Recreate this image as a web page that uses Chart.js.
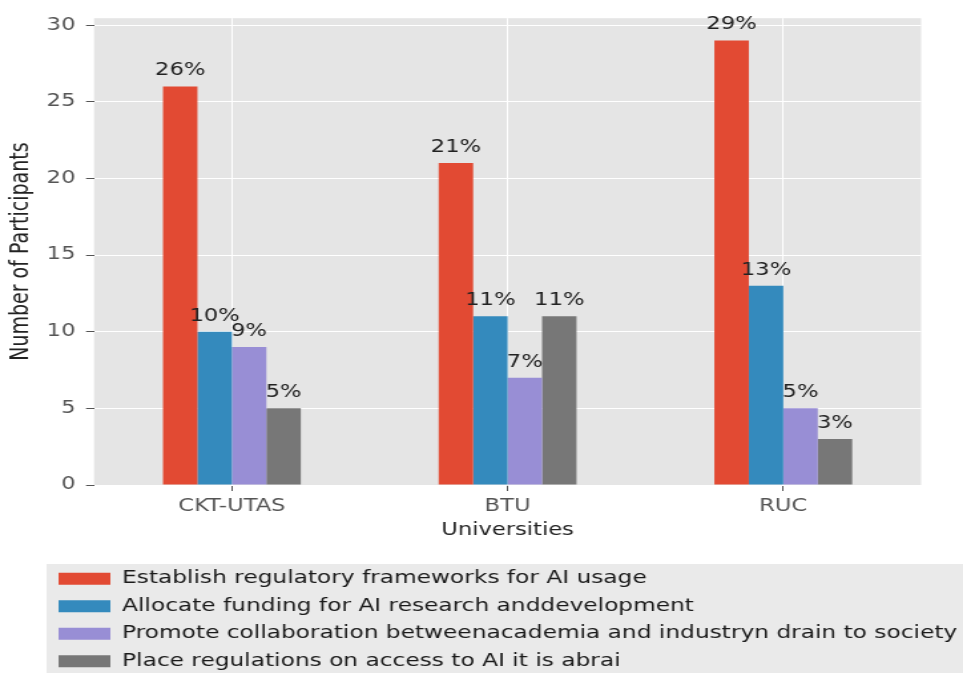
<!DOCTYPE html>
<html>
<head>
<meta charset="utf-8">
<title>Participants by university</title>
<script src="https://cdn.jsdelivr.net/npm/chart.js@4.4.1/dist/chart.umd.min.js"></script>
<style>
  html, body { margin: 0; padding: 0; background: #fff; }
</style>
</head>
<body>
<!-- the source figure is stretched sideways, so the canvas is drawn narrow and widened by its style -->
<canvas id="participantsChart" width="724" height="674" style="display:block;width:963px;height:674px"></canvas>
<script>
// data
const universities = ['CKT-UTAS', 'BTU', 'RUC'];
const regulatoryFrameworks = [26, 21, 29];
const researchFunding = [10, 11, 13];
const academiaCollaboration = [9, 7, 5];
const accessRegulations = [5, 11, 3];
const seriesNames = [
  'Establish regulatory frameworks for AI usage',
  'Allocate funding for AI research anddevelopment',
  'Promote collaboration betweenacademia and industryn drain to society',
  'Place regulations on access to AI it is abrai'
];
const seriesColors = ['#E24A33', '#348ABD', '#988ED5', '#777777'];
const yTicks = [0, 5, 10, 15, 20, 25, 30];

Chart.defaults.font.family = "'DejaVu Sans', sans-serif";
Chart.defaults.font.size = 17;

// grey panel behind the bars and behind the legend
const panelBackground = {
  id: 'panelBackground',
  afterLayout(chart) {
    chart.legend.left = 34;
    chart.legend.right = chart.width;
  },
  beforeDraw(chart) {
    const {ctx, chartArea, legend} = chart;
    ctx.save();
    ctx.fillStyle = '#E5E5E5';
    ctx.fillRect(chartArea.left, chartArea.top, chartArea.right - chartArea.left, chartArea.bottom - chartArea.top);
    ctx.fillStyle = '#EAEAEA';
    ctx.fillRect(legend.left + 1, legend.top + 4, chart.width - legend.left, legend.height - 11);
    ctx.restore();
  }
};

// percentage text above every bar
const valueLabels = {
  id: 'valueLabels',
  afterDatasetsDraw(chart) {
    const ctx = chart.ctx;
    ctx.save();
    ctx.font = "17px 'DejaVu Sans'";
    ctx.fillStyle = '#222';
    ctx.textAlign = 'center';
    ctx.textBaseline = 'alphabetic';
    chart.data.datasets.forEach((ds, i) => {
      chart.getDatasetMeta(i).data.forEach((bar, j) => {
        ctx.fillText(ds.data[j] + '%', bar.x, bar.y - 11);
      });
    });
    ctx.restore();
  }
};

const seriesValues = [regulatoryFrameworks, researchFunding, academiaCollaboration, accessRegulations];

const participantsData = {
  labels: universities,
  datasets: seriesValues.map((values, i) => ({
    label: seriesNames[i],
    data: values,
    backgroundColor: seriesColors[i],
    borderWidth: 0,
    categoryPercentage: 0.5,
    barPercentage: 1.0
  }))
};

const participantsConfig = {
  type: 'bar',
  data: participantsData,
  options: {
    responsive: false,
    devicePixelRatio: 1,
    animation: false,
    layout: {
      padding: {top: 15, right: 31.5, bottom: -6, left: 0}
    },
    scales: {
      x: {
        offset: true,
        border: {display: false},
        grid: {color: '#fff', offset: false, tickColor: '#555', tickLength: 6},
        ticks: {color: '#555', padding: 5},
        title: {
          display: true,
          text: 'Universities',
          color: '#222',
          padding: {top: 4, bottom: 19}
        },
        afterFit(scale) {
          scale.height = 75;
        }
      },
      y: {
        min: 0,
        max: 30.45,
        afterBuildTicks(scale) {
          scale.ticks = yTicks.map(v => ({value: v}));
        },
        border: {display: false},
        grid: {color: '#fff', tickColor: '#555', tickLength: 6},
        ticks: {color: '#555', padding: 8},
        title: {
          display: true,
          text: 'Number of Participants',
          color: '#222',
          font: {size: 19},
          padding: {top: 5, bottom: 0}
        },
        afterFit(scale) {
          scale.width = 70.7;
        }
      }
    },
    plugins: {
      legend: {
        position: 'bottom',
        align: 'start',
        labels: {
          boxWidth: 39,
          boxHeight: 12,
          padding: 10,
          color: '#1a1a1a',
          font: {size: 17.5}
        }
      },
      tooltip: {enabled: false}
    }
  },
  plugins: [panelBackground, valueLabels]
};

const participantsChart = new Chart(
  document.getElementById('participantsChart'),
  participantsConfig
);
</script>
</body>
</html>
